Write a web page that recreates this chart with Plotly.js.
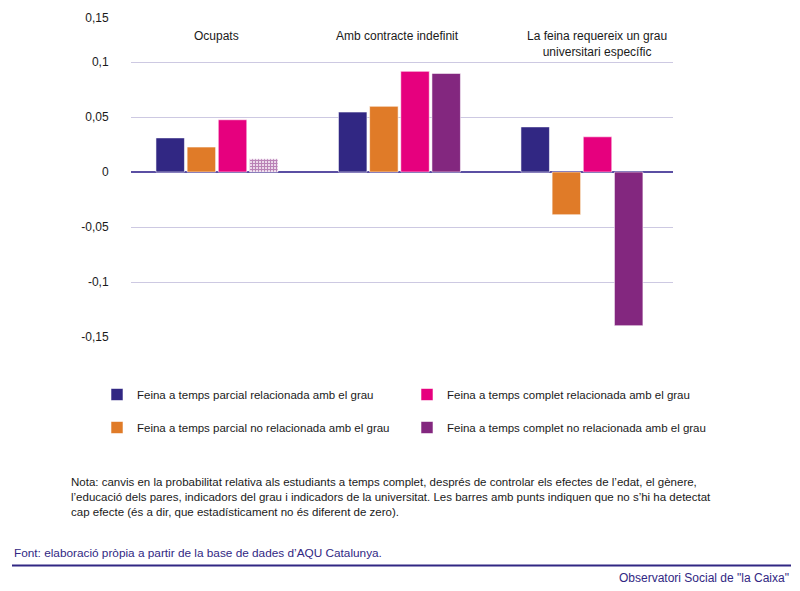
<!DOCTYPE html>
<html><head><meta charset="utf-8">
<script src="https://cdn.plot.ly/plotly-3.0.1.min.js"></script>
<style>html,body{margin:0;padding:0;background:#fff}#chart{width:800px;height:591px}</style>
</head><body><div id="chart"></div>
<script>
// ---- data ----
const categories = ["Ocupats", "Amb contracte indefinit", "La feina requereix un grau universitari específic"];
const categoryLabels = ["Ocupats", "Amb contracte indefinit", "La feina requereix un grau<br>universitari específic"];
const seriesNames = [
  "Feina a temps parcial relacionada amb el grau",
  "Feina a temps parcial no relacionada amb el grau",
  "Feina a temps complet relacionada amb el grau",
  "Feina a temps complet no relacionada amb el grau"
];
const parcialRelacionada   = [0.031, 0.0545, 0.041];
const parcialNoRelacionada = [0.0227, 0.0597, -0.0388];
const completRelacionada   = [0.0475, 0.0915, 0.032];
const completNoRelacionada = [0.012, 0.0896, -0.1397];
// false = no significant effect (dotted bar)
const significantComplNoRel = [false, true, true];
const yTickValues = [-0.15, -0.1, -0.05, 0, 0.05, 0.1, 0.14];
const yTickLabels = ["-0,15", "-0,1", "-0,05", "0", "0,05", "0,1", "0,15"];

// ---- styles ----
const colors = ["#312783", "#E07B28", "#E6007E", "#83277F"];
const FONT = "Liberation Sans, Arial, sans-serif";
const L = 131, R = 673, T = 18, B = 337;
const px2x = p => (p - L) / (R - L);
const py2y = p => (B - p) / (B - T);

const allSeries = [parcialRelacionada, parcialNoRelacionada, completRelacionada, completNoRelacionada];
const traces = [];
allSeries.forEach((vals, i) => {
  const isLast = i === 3;
  const y = isLast ? vals.map((v, k) => significantComplNoRel[k] ? v : null) : vals;
  traces.push({
    type: "bar", x: categories, y: y, name: seriesNames[i],
    offsetgroup: "g" + i, legendgroup: "lg" + i,
    legend: i < 2 ? "legend" : "legend2",
    marker: { color: colors[i], line: { color: "rgba(255,255,255,0.55)", width: 1 } },
    hoverinfo: "y+name"
  });
});
traces.push({
  type: "bar", x: categories,
  y: completNoRelacionada.map((v, k) => significantComplNoRel[k] ? null : v),
  name: seriesNames[3], offsetgroup: "g3", showlegend: false,
  marker: { color: "#ffffff", line: { color: "rgba(255,255,255,0.55)", width: 1 },
    pattern: { shape: "+", fgcolor: colors[3], bgcolor: "#eedcec", size: 3, solidity: 0.6, fillmode: "overlay" } }
});

const ann = categoryLabels.map((t, i) => ({
  text: t, x: categories[i], xref: "x", y: py2y(27), yref: "paper",
  yanchor: "top", xanchor: "center", showarrow: false, align: "center",
  xshift: i === 2 ? 15 : (i === 1 ? -2 : 0),
  font: { family: FONT, size: 12, color: "#1a1a1a" }
}));
ann.push({
  text: "Nota: canvis en la probabilitat relativa als estudiants a temps complet, després de controlar els efectes de l’edat, el gènere,<br>l’educació dels pares, indicadors del grau i indicadors de la universitat. Les barres amb punts indiquen que no s’hi ha detectat<br>cap efecte (és a dir, que estadísticament no és diferent de zero).",
  x: px2x(69), xref: "paper", xanchor: "left", y: py2y(474), yref: "paper", yanchor: "top",
  align: "left", showarrow: false, font: { family: FONT, size: 11.5, color: "#1a1a1a" }
});
ann.push({
  text: "Font: elaboració pròpia a partir de la base de dades d’AQU Catalunya.",
  x: px2x(12), xref: "paper", xanchor: "left", y: py2y(553), yref: "paper", yanchor: "middle",
  showarrow: false, font: { family: FONT, size: 11.8, color: "#312783" }
});
ann.push({
  text: "Observatori Social de \"la Caixa\"",
  x: px2x(791), xref: "paper", xanchor: "right", y: py2y(578), yref: "paper", yanchor: "middle",
  showarrow: false, font: { family: FONT, size: 12, color: "#312783" }
});

const legendBase = {
  orientation: "v", yanchor: "top", xanchor: "left", bgcolor: "rgba(0,0,0,0)",
  tracegroupgap: 14, font: { family: FONT, size: 11.5, color: "#1a1a1a" }, itemwidth: 30
};

const layout = {
  width: 800, height: 591,
  margin: { l: L, r: 800 - R, t: T, b: 591 - B, pad: 0 },
  paper_bgcolor: "#ffffff", plot_bgcolor: "#ffffff",
  barmode: "group", bargap: 0.317, bargroupgap: 0.086,
  font: { family: FONT, size: 12, color: "#1a1a1a" },
  xaxis: { range: [-0.471, 2.499], showticklabels: false, showgrid: false, zeroline: false, showline: false, ticks: "" },
  yaxis: {
    range: [-0.15, 0.14], tickvals: yTickValues, ticktext: yTickLabels,
    showgrid: true, gridcolor: "#cdc9e2", gridwidth: 1,
    zeroline: true, zerolinecolor: "#5b4fa3", zerolinewidth: 1.6,
    ticks: "outside", ticklen: 19, tickcolor: "rgba(0,0,0,0)",
    tickfont: { family: FONT, size: 12, color: "#1a1a1a" }, showline: false
  },
  legend: Object.assign({}, legendBase, { x: px2x(97), y: py2y(380) }),
  legend2: Object.assign({}, legendBase, { x: px2x(407), y: py2y(380) }),
  annotations: ann,
  shapes: [{
    type: "line", xref: "paper", yref: "paper",
    x0: px2x(12), x1: px2x(791), y0: py2y(565.5), y1: py2y(565.5),
    line: { color: "#312783", width: 2 }
  }],
  showlegend: true
};

Plotly.newPlot("chart", traces, layout, { displayModeBar: false, staticPlot: true });
</script>
</body></html>
